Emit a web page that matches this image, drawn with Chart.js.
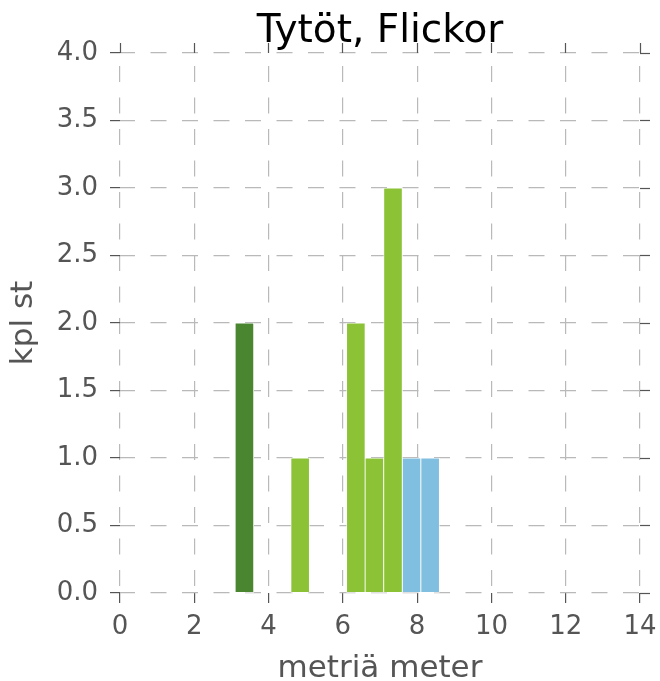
<!DOCTYPE html>
<html>
<head>
<meta charset="utf-8">
<script src="https://cdn.jsdelivr.net/npm/chart.js@4/dist/chart.umd.min.js"></script>
<style>
    html, body { margin: 0; padding: 0; background: #fff; }
    #wrap { width: 660px; height: 681px; }
</style>
</head>
<body>
<div id="wrap"><canvas id="chart-hist"></canvas></div>
<script>
// Histogram of distances (metres), bins of 0.5 m, one colour per group
const darkBins = [3.35];
const darkCounts = [2];
const lightBins = [4.85, 6.35, 6.85, 7.35];
const lightCounts = [1, 2, 1, 3];
const blueBins = [7.85, 8.35];
const blueCounts = [1, 1];

const X_MIN = 0, X_MAX = 14, X_STEP = 2;
const Y_MIN = 0, Y_MAX = 4, Y_STEP = 0.5;

const FONT = 'DejaVu Sans';
const GRID_COLOR = '#b9b9b9';
const TICK_COLOR = '#555555';
const TEXT_COLOR = '#555555';
const TICK_LEN = 10;

function toPoints(xs, ys) {
    return xs.map((x, i) => ({ x, y: ys[i] }));
}

function barSet(label, xs, ys, color) {
    return {
        label,
        data: toPoints(xs, ys),
        backgroundColor: color,
        borderColor: '#ffffff',
        borderWidth: 0.8,
        borderSkipped: false,
        barPercentage: 1,
        categoryPercentage: 1,
        grouped: false,
    };
}

// extra axes only carry the outward tick marks on top / right
const sideTicks = (pos, axis) => ({
    type: 'linear',
    position: pos,
    axis,
    min: axis === 'x' ? X_MIN : Y_MIN,
    max: axis === 'x' ? X_MAX : Y_MAX,
    offset: false,
    ticks: { display: false, stepSize: axis === 'x' ? X_STEP : Y_STEP },
    grid: {
        offset: false,
        drawOnChartArea: false,
        drawTicks: true,
        tickLength: TICK_LEN,
        tickColor: TICK_COLOR,
        tickWidth: 1.2,
        tickBorderDash: [],
    },
    border: { display: false },
});

new Chart(document.getElementById('chart-hist'), {
    type: 'bar',
    data: {
        datasets: [
            barSet('Ryhmä 1', darkBins, darkCounts, '#4a8530'),
            barSet('Ryhmä 2', lightBins, lightCounts, '#8bc236'),
            barSet('Ryhmä 3', blueBins, blueCounts, '#80bfe0'),
        ],
    },
    options: {
        responsive: true,
        maintainAspectRatio: false,
        animation: false,
        layout: { padding: { top: 0, right: 10, bottom: 0, left: 4 } },
        plugins: {
            legend: { display: false },
            tooltip: { enabled: false },
            title: {
                display: true,
                text: 'Tytöt, Flickor',
                color: '#000000',
                fullSize: false,
                font: { family: FONT, size: 39, weight: 'normal', lineHeight: 1 },
                padding: { top: 12, bottom: -8 },
            },
        },
        scales: {
            x: {
                type: 'linear',
                min: X_MIN,
                max: X_MAX,
                offset: false,
                afterFit: s => { s.height = 88; },
                ticks: {
                    stepSize: X_STEP,
                    color: TEXT_COLOR,
                    font: { family: FONT, size: 26, lineHeight: 1.65 },
                    padding: 3,
                    maxRotation: 0,
                },
                grid: {
                    offset: false,
                    color: GRID_COLOR,
                    lineWidth: 1.2,
                    tickLength: TICK_LEN,
                    tickColor: TICK_COLOR,
                    tickWidth: 1.2,
                    tickBorderDash: [],
                },
                border: { display: false, dash: [16, 15.5], dashOffset: 18.5 },
                title: {
                    display: true,
                    text: 'metriä meter',
                    color: TEXT_COLOR,
                    font: { family: FONT, size: 31, lineHeight: 0.8 },
                    padding: { top: 0, bottom: 0 },
                },
            },
            y: {
                type: 'linear',
                min: Y_MIN,
                max: Y_MAX,
                afterFit: s => { s.width = 116; },
                ticks: {
                    stepSize: Y_STEP,
                    color: TEXT_COLOR,
                    font: { family: FONT, size: 26 },
                    padding: 12,
                    callback: v => v.toFixed(1),
                },
                grid: {
                    color: GRID_COLOR,
                    lineWidth: 1.2,
                    tickLength: TICK_LEN,
                    tickColor: TICK_COLOR,
                    tickWidth: 1.2,
                    tickBorderDash: [],
                },
                border: { display: false, dash: [16, 15.5], dashOffset: 1 },
                title: {
                    display: true,
                    text: 'kpl st',
                    color: TEXT_COLOR,
                    font: { family: FONT, size: 31, lineHeight: 1 },
                    padding: { top: 4, bottom: 7 },
                },
            },
            xTop: sideTicks('top', 'x'),
            yRight: sideTicks('right', 'y'),
        },
    },
});
</script>
</body>
</html>
